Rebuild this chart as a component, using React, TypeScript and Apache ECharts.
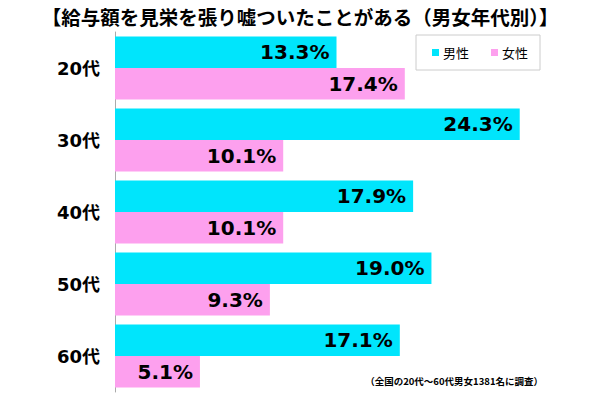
import React, { useEffect, useRef } from "react";
import * as echarts from "echarts";

const titleText = "【給与額を見栄を張り嘘ついたことがある（男女年代別）】";
const categories = ["20代", "30代", "40代", "50代", "60代"];
const seriesNames = ["男性", "女性"];
const maleValues = [13.3, 24.3, 17.9, 19.0, 17.1];
const femaleValues = [17.4, 10.1, 10.1, 9.3, 5.1];
const footnote = "（全国の20代～60代男女1381名に調査）";

const CYAN = "#00E5FC";
const PINK = "#FDA0EE";

export default function App() {
  const ref = useRef<HTMLDivElement>(null);
  useEffect(() => {
    if (!ref.current) return;
    const chart = echarts.init(ref.current, null, { renderer: "svg" });
    const labelStyle = {
      show: true,
      position: "insideRight",
      distance: 7,
      formatter: (p: any) => `${Number(p.value).toFixed(1)}%`,
      color: "#000",
      fontSize: 20,
      fontWeight: "bold",
      fontFamily: "'DejaVu Sans', 'Noto Sans CJK JP', sans-serif",
    };
    chart.setOption({
      animation: false,
      backgroundColor: "#fff",
      title: {
        text: titleText,
        left: "center",
        top: 2,
        textStyle: {
          fontSize: 19.5,
          fontWeight: "bold",
          color: "#000",
          fontFamily: "'Noto Sans CJK JP', sans-serif",
        },
      },
      legend: {
        data: seriesNames,
        left: 416,
        top: 35,
        orient: "horizontal",
        icon: "rect",
        itemWidth: 7,
        itemHeight: 7,
        itemGap: 22,
        padding: [11, 12, 11, 16],
        borderColor: "#ccc",
        borderWidth: 1,
        backgroundColor: "#fff",
        textStyle: {
          fontSize: 13,
          color: "#000",
          padding: [0, 0, 0, -1],
          fontFamily: "'Noto Sans CJK JP', sans-serif",
        },
      },
      grid: { left: 115, right: 2, top: 32, bottom: 2, containLabel: false },
      xAxis: {
        type: "value",
        min: 0,
        max: 29,
        show: false,
        splitLine: { show: false },
      },
      yAxis: {
        type: "category",
        data: categories,
        inverse: true,
        axisLine: { show: true, lineStyle: { color: "#aaa", width: 1 } },
        axisTick: { show: false },
        axisLabel: {
          margin: 15,
          color: "#000",
          fontSize: 18,
          fontWeight: "bold",
          fontFamily: "'DejaVu Sans', 'Noto Sans CJK JP', sans-serif",
        },
      },
      series: [
        {
          name: seriesNames[0],
          type: "bar",
          data: maleValues,
          itemStyle: { color: CYAN },
          barGap: "0%",
          barCategoryGap: "12.5%",
          label: labelStyle,
          z: 3,
        },
        {
          name: seriesNames[1],
          type: "bar",
          data: femaleValues,
          itemStyle: { color: PINK },
          barGap: "0%",
          barCategoryGap: "12.5%",
          label: labelStyle,
          z: 3,
        },
      ],
      graphic: [
        {
          type: "text",
          right: 57,
          top: 376,
          style: {
            text: footnote,
            fill: "#000",
            fontSize: 9.5,
            fontWeight: "bold",
            fontFamily: "'Noto Sans CJK JP', sans-serif",
          },
          z: 10,
        },
      ],
    });
    return () => chart.dispose();
  }, []);
  return (
    <div
      ref={ref}
      style={{ position: "fixed", left: 0, top: 0, width: 600, height: 394 }}
    />
  );
}
